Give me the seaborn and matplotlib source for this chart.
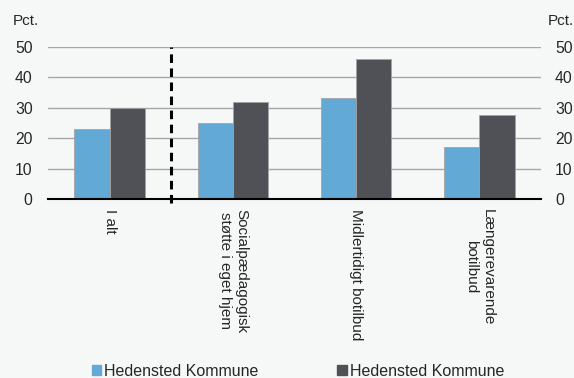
import pandas as pd
import matplotlib.pyplot as plt
import seaborn as sns
from matplotlib.patches import Patch

categories = ["I alt", "Socialpædagogisk\nstøtte i eget hjem", "Midlertidigt botilbud", "Længerevarende\nbotilbud"]
series_names = ["Hedensted Kommune", "Hedensted Kommune"]
series_a = [23.1, 25.0, 33.2, 17.0]
series_b = [30.0, 31.9, 45.9, 27.6]
y_ticks = [0, 10, 20, 30, 40, 50]

colors = ["#62a9d5", "#505157"]
bg = "#f6f8f8"

df = pd.DataFrame({
    "Kategori": categories * 2,
    "Serie": ["a"] * 4 + ["b"] * 4,
    "Pct": series_a + series_b,
})

sns.set_style("white")
plt.rcParams['font.family'] = ['Liberation Sans', 'DejaVu Sans']
plt.rcParams['font.size'] = 11

fig = plt.figure(figsize=(5.74, 3.78), dpi=100, facecolor=bg)
ax = fig.add_axes([48 / 574, 1 - 199 / 378, (541 - 48) / 574, (199 - 47) / 378])
ax.set_facecolor(bg)

sns.barplot(data=df, x="Kategori", y="Pct", hue="Serie", palette=colors,
            width=0.57, legend=False, ax=ax, saturation=1, zorder=3,
            edgecolor="#a3a3a3", linewidth=0.6)

ax.set_xlim(-0.5, 3.5)
ax.set_ylim(0, 50)
ax.set_yticks(y_ticks)
ax.yaxis.grid(True, color="#a6a6a6", lw=1, zorder=0)
ax.set_xlabel("")
ax.set_ylabel("")

for s in ["top", "right", "left"]:
    ax.spines[s].set_visible(False)
ax.spines["bottom"].set_color("black")
ax.spines["bottom"].set_linewidth(1.5)
ax.spines["bottom"].set_zorder(5)

ax.tick_params(axis="y", length=0, pad=11, labelsize=11.3)

# category labels, rotated, lines centred
ax.set_xticks(range(len(categories)))
ax.set_xticklabels([])
ax.tick_params(axis="x", which="major", length=0)
for i, cat in enumerate(categories):
    ax.annotate(cat, xy=(i, 0), xycoords=("data", "axes fraction"),
                xytext=(0, -7), textcoords="offset points",
                rotation=270, ha="center", va="top",
                multialignment="center", fontsize=11)
ax.set_xticks([-0.5, 0.5, 1.5, 2.5, 3.5], minor=True)
ax.tick_params(axis="x", which="minor", length=5, width=1.5, direction="out", color="black")

ax2 = ax.twinx()
ax2.set_ylim(0, 50)
ax2.set_yticks(y_ticks)
ax2.tick_params(axis="y", length=0, pad=10, labelsize=11.3)
for s in ax2.spines.values():
    s.set_visible(False)

# dashed separator, drawn bottom-up so a dash crosses the axis
ax.plot([0.5, 0.5], [-1.3, 50], color="black", lw=2.2, ls=(0, (2.8, 1.8)),
        clip_on=False, zorder=6)

fig.text(13 / 574, 1 - 21 / 378, "Pct.", ha="left", va="center", fontsize=11)
fig.text(548 / 574, 1 - 21 / 378, "Pct.", ha="left", va="center", fontsize=11)

handles = [Patch(color=c) for c in colors]
fig.legend(handles, series_names, ncol=2, loc="center",
           bbox_to_anchor=(298 / 574, 1 - 371 / 378), frameon=False,
           handlelength=0.6, handleheight=0.6, handletextpad=0.2,
           columnspacing=4.9, borderpad=0, fontsize=11.5)

fig.savefig("out.png", dpi=100, facecolor=bg)
